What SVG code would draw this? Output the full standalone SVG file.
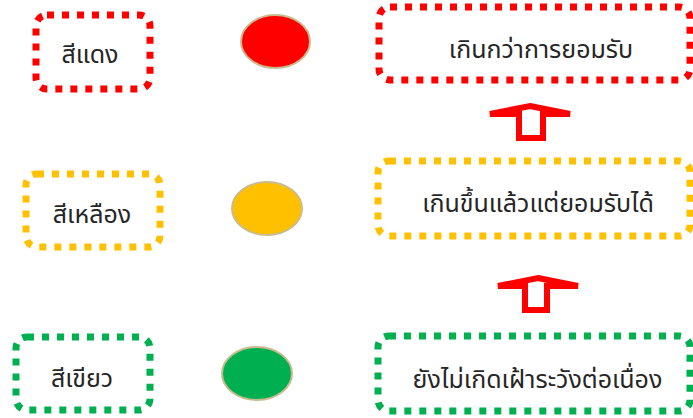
<svg xmlns="http://www.w3.org/2000/svg" width="693" height="418" viewBox="0 0 693 418">
<style>
.box{fill:#fff;stroke-width:7;stroke-dasharray:7 8}
.red{stroke:#FF0000}.yel{stroke:#FFC000}.grn{stroke:#00B050}
.lamp{stroke:#C9BB8E;stroke-width:2}
.t{font-family:"Noto Sans Thai","Noto Sans","DejaVu Sans",sans-serif;font-size:25px;fill:#262626;text-anchor:middle}
.arr{fill:#fff;stroke:#FF0000;stroke-width:6;stroke-linejoin:miter;stroke-miterlimit:10}
</style>
<g id="connectors">
<polygon class="arr" points="530,106 570,114 543,114 543,138 519,138 519,114 490,114"/>
<polygon class="arr" points="538,278 578,286 547,286 547,310 525,310 525,286 498,286"/>
</g>
<g id="red-label"><rect class="box red" x="36" y="15" width="114" height="74" rx="11"/><text class="t" x="90" y="63">สีแดง</text></g>
<g id="red-lamp"><ellipse class="lamp" cx="275.5" cy="41.5" rx="34.5" ry="26.5" fill="#FF0000"/></g>
<g id="red-status"><rect class="box red" x="379" y="7" width="311" height="73" rx="11"/><text class="t" x="541" y="58">เกินกว่าการยอมรับ</text></g>
<g id="yellow-label"><rect class="box yel" x="26" y="174" width="134" height="73" rx="11"/><text class="t" x="92" y="223">สีเหลือง</text></g>
<g id="yellow-lamp"><ellipse class="lamp" cx="267" cy="208.5" rx="35" ry="26.5" fill="#FFC000"/></g>
<g id="yellow-status"><rect class="box yel" x="378" y="161" width="312" height="75" rx="11"/><text class="t" x="538" y="212">เกินขึ้นแล้วแต่ยอมรับได้</text></g>
<g id="green-label"><rect class="box grn" x="16" y="337" width="134" height="73" rx="11"/><text class="t" x="82" y="387">สีเขียว</text></g>
<g id="green-lamp"><ellipse class="lamp" cx="257" cy="373.5" rx="35" ry="26.5" fill="#00B050"/></g>
<g id="green-status"><rect class="box grn" x="378" y="336" width="312" height="75" rx="11"/><text class="t" x="537.5" y="388">ยังไม่เกิดเฝ้าระวังต่อเนื่อง</text></g>
</svg>
